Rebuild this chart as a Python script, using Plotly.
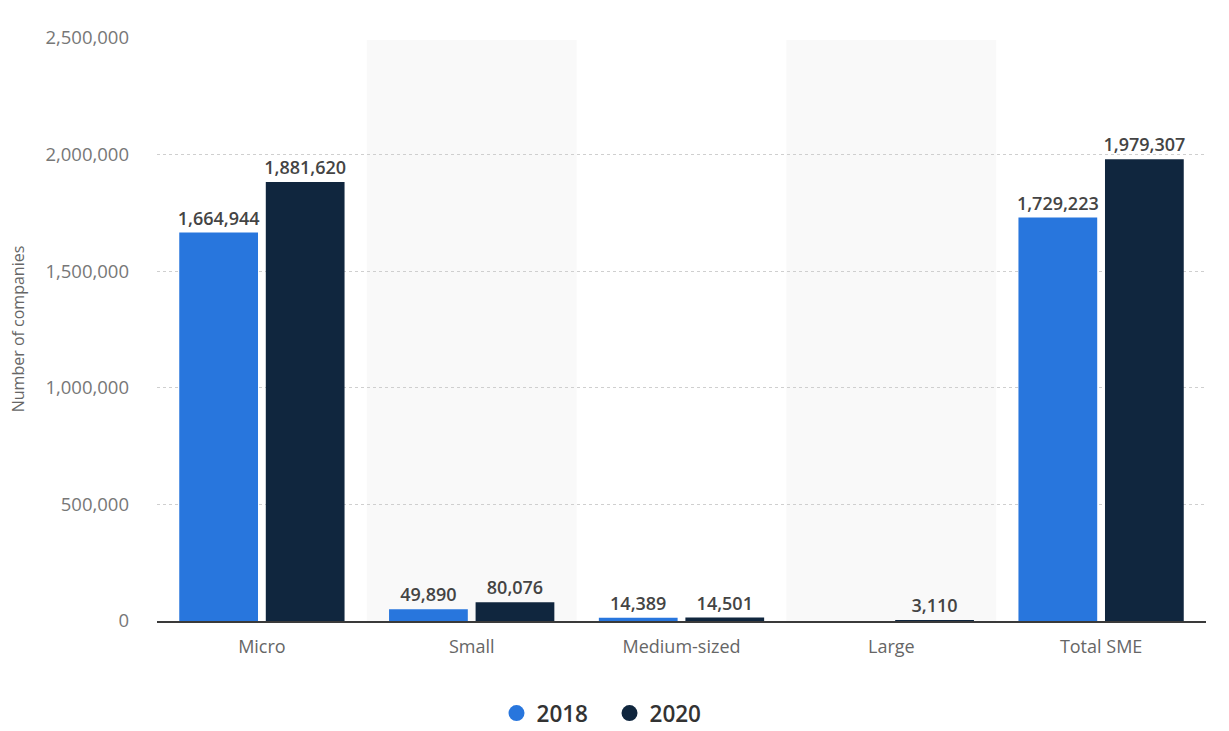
import plotly.graph_objects as go

categories = ["Micro", "Small", "Medium-sized", "Large", "Total SME"]
values_2018 = [1664944, 49890, 14389, None, 1729223]
values_2020 = [1881620, 80076, 14501, 3110, 1979307]
y_ticks = [0, 500000, 1000000, 1500000, 2000000, 2500000]

COLOR_2018 = "#2876dd"
COLOR_2020 = "#10263e"
FONT = "Open Sans"


def labels(vals):
    return [f"{v:,}" if v is not None else "" for v in vals]


fig = go.Figure()
for name, vals, color in [("2018", values_2018, COLOR_2018), ("2020", values_2020, COLOR_2020)]:
    fig.add_trace(go.Bar(
        name=name,
        x=categories,
        y=vals,
        marker=dict(color=color, line=dict(width=0)),
        text=labels(vals),
        textposition="outside",
        constraintext="none",
        cliponaxis=False,
        textfont=dict(family=FONT, size=18, color="#444444", weight=600),
        hoverinfo="skip",
        showlegend=False,
    ))
    # round legend markers
    fig.add_trace(go.Scatter(
        name=name, x=[None], y=[None], mode="markers",
        marker=dict(symbol="circle", size=20, color=color),
        showlegend=True, hoverinfo="skip",
    ))

# Alternate category bands
for i in range(1, len(categories), 2):
    fig.add_shape(type="rect", xref="x", yref="paper",
                  x0=i - 0.5, x1=i + 0.5, y0=0, y1=0.995,
                  fillcolor="#f9f9f9", line=dict(width=0), layer="below")

fig.update_layout(
    width=1229, height=731,
    margin=dict(l=157, r=23, t=37, b=110),
    paper_bgcolor="white", plot_bgcolor="white",
    barmode="group", bargap=0.175, bargroupgap=0.09,
    font=dict(family=FONT, color="#666666"),
    showlegend=True,
    legend=dict(orientation="h", xref="container", x=0.404, xanchor="left",
                yref="container", y=0.024, yanchor="middle",
                font=dict(family=FONT, size=22.5, color="#333333", weight=600),
                itemsizing="trace", traceorder="normal",
                entrywidth=68, entrywidthmode="pixels"),
    xaxis=dict(
        type="category", range=[-0.5, len(categories) - 0.5],
        showgrid=False, showline=True, linecolor="#3a3a3a", linewidth=1.5,
        ticks="", tickfont=dict(family=FONT, size=18, color="#666666"),
        ticklabelstandoff=9,
    ),
    yaxis=dict(
        range=[0, 2503000], tickvals=y_ticks,
        ticktext=[f"{t:,}" for t in y_ticks],
        showgrid=True, gridcolor="#cfcfcf", griddash="dot", gridwidth=1,
        zeroline=False, showline=False, ticks="",
        tickfont=dict(family=FONT, size=18.5, color="#777777"),
        ticklabelstandoff=27,
        title=dict(text="Number of companies", font=dict(family=FONT, size=16, color="#666666"),
                   standoff=16),
    ),
)

fig.write_html("out.html")
